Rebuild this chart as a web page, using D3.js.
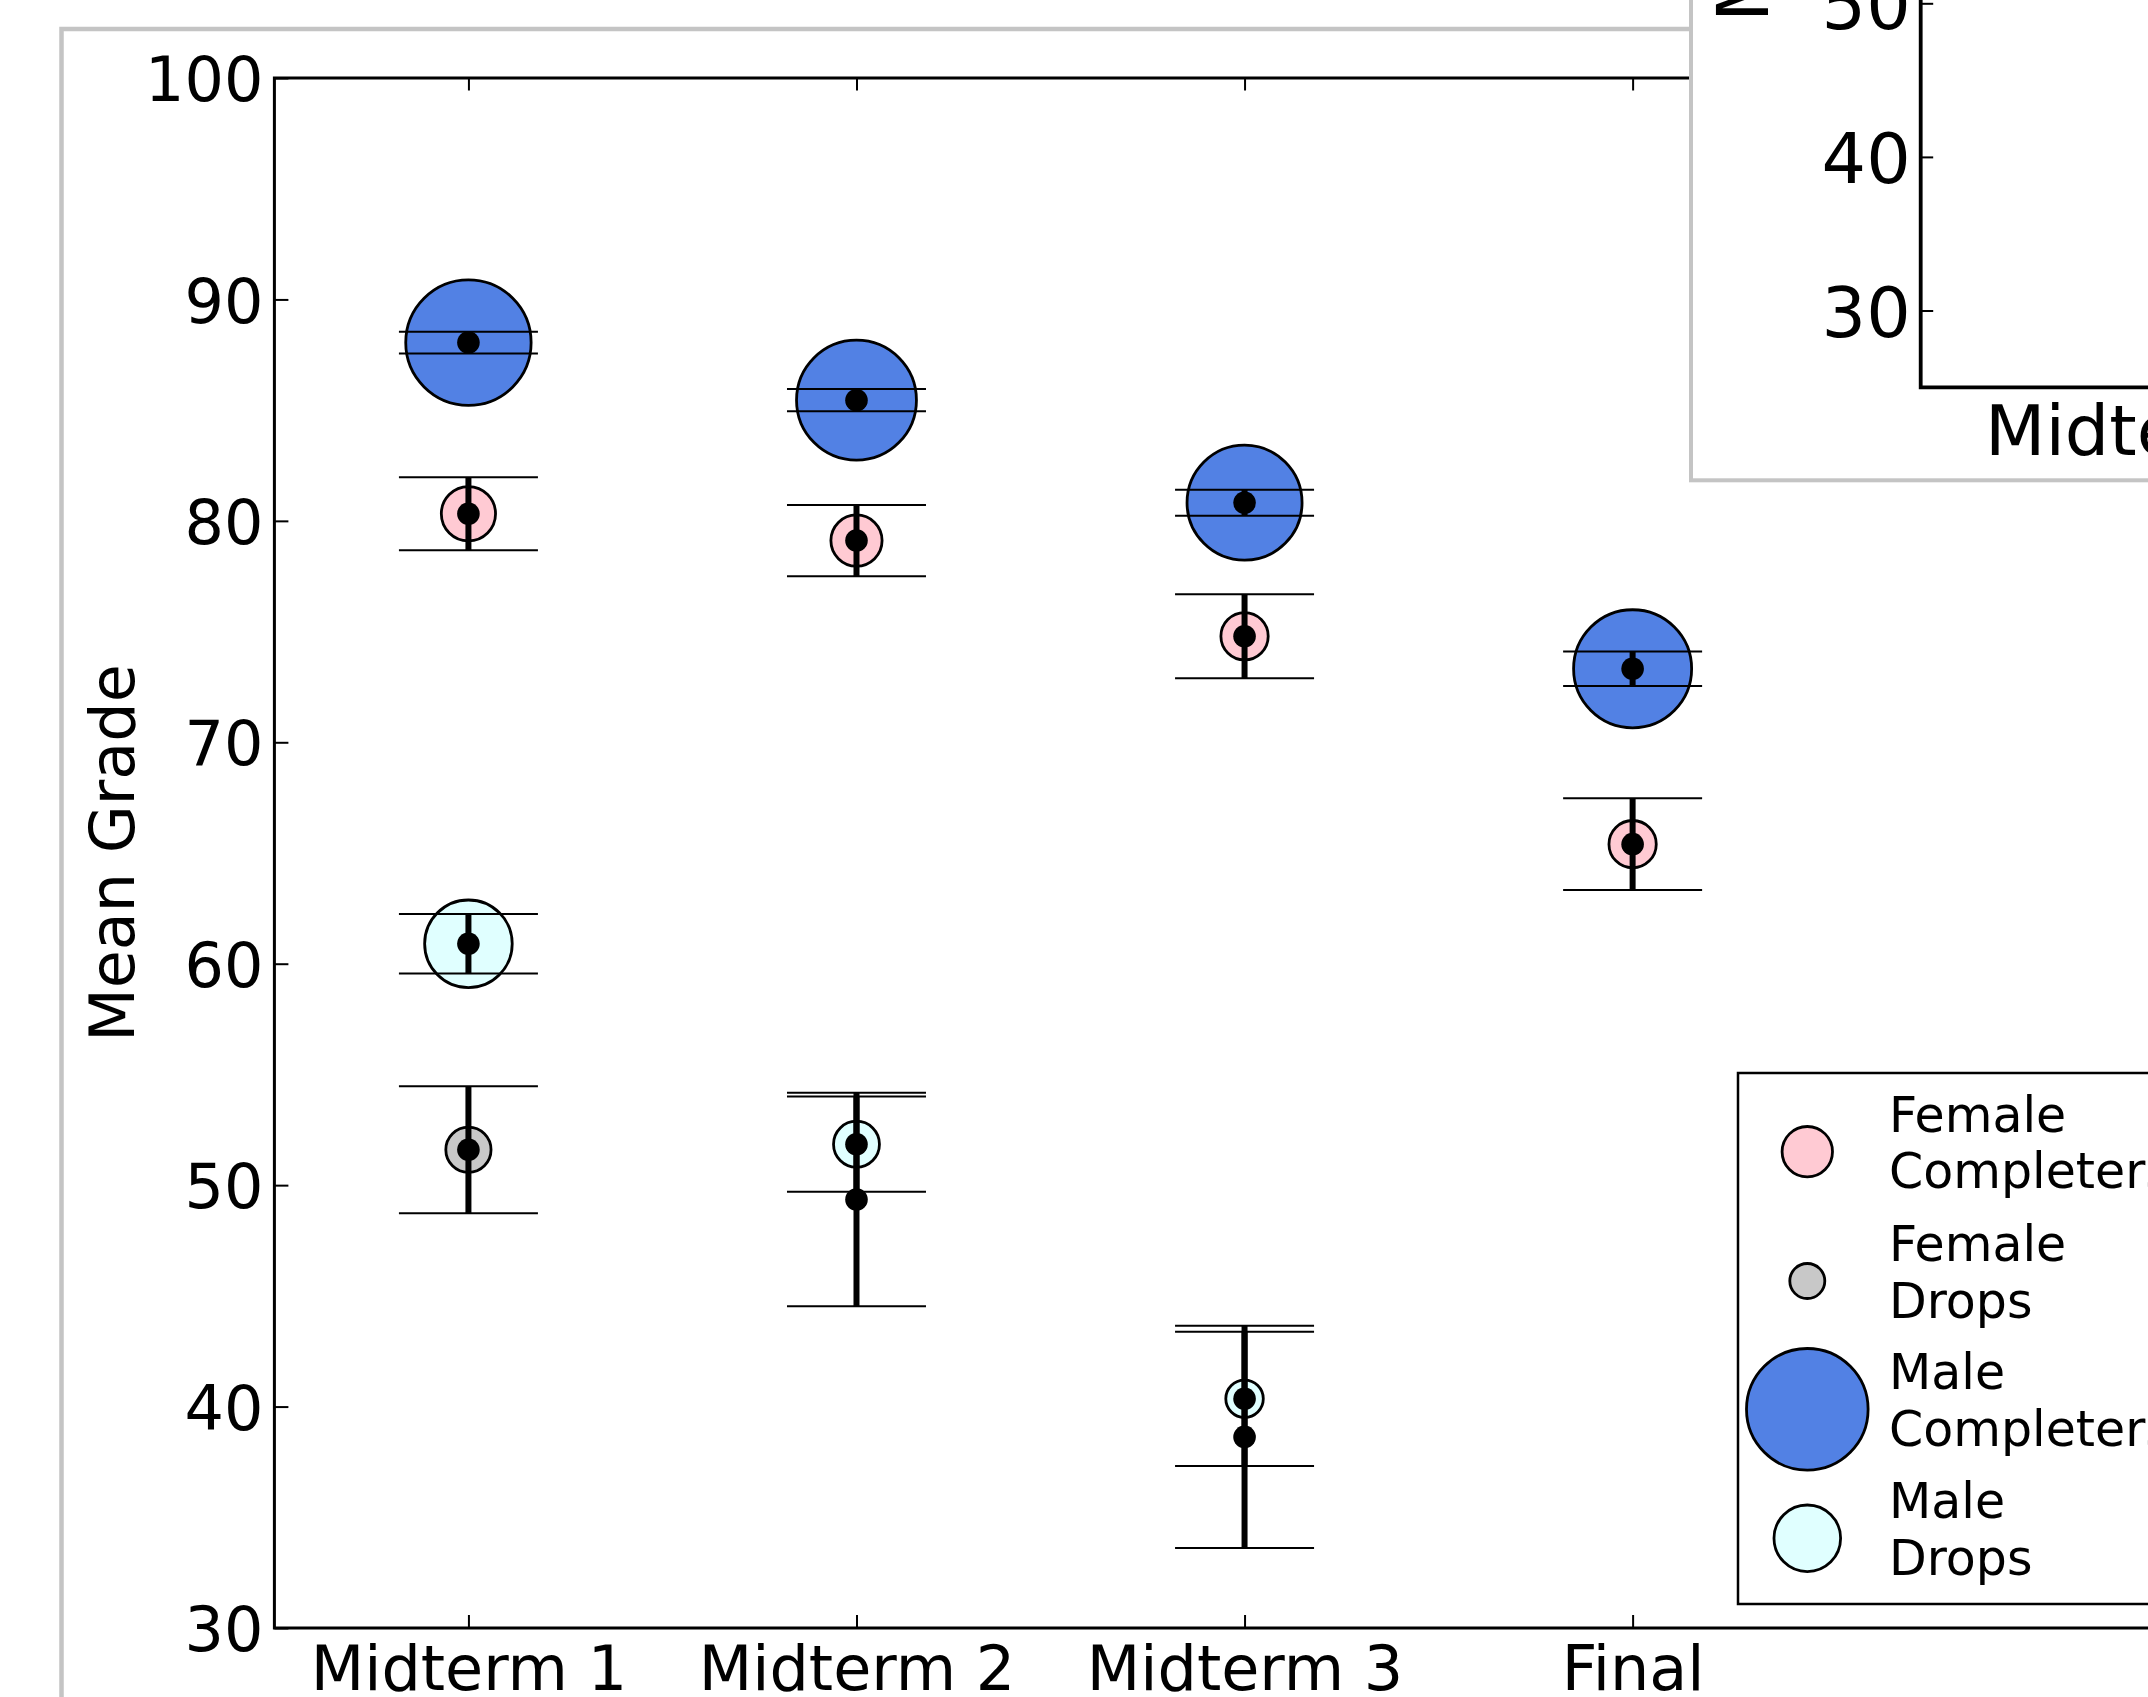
<!DOCTYPE html>
<html><head><meta charset="utf-8">
<script src="https://cdn.jsdelivr.net/npm/d3@7"></script>
<style>
html,body{margin:0;padding:0;background:#fff;overflow:hidden}
svg{display:block}
text{font-family:"DejaVu Sans",sans-serif;fill:#000}
</style></head><body>
<svg id="chart" width="2148" height="1697"></svg>
<script>
// ---------------- DATA ----------------
const categories = ["Midterm 1", "Midterm 2", "Midterm 3", "Final"];
const yTicks = [30, 40, 50, 60, 70, 80, 90, 100];

const maleCompMean = [88.05, 85.45, 80.82, 73.32];
const maleCompErr  = [0.49, 0.50, 0.59, 0.78];
const maleCompN    = [246, 225, 207, 218];

const femCompMean  = [80.32, 79.11, 74.79, 65.40];
const femCompErr   = [1.65, 1.61, 1.90, 2.07];
const femCompN     = [46, 41, 35, 35];

const maleDropMean = [60.90, 51.85, 40.35, null];
const maleDropErr  = [1.34, 2.15, 3.03, null];
const maleDropN    = [120, 33, 22, null];

const femDropMean  = [51.60, 49.35, 38.63, null];
const femDropErr   = [2.87, 4.82, 5.02, null];
const femDropN     = [32, 4, 4, null];

const legendLabels = [["Female", "Completers"], ["Female", "Drops"], ["Male", "Completers"], ["Male", "Drops"]];

// overlapping inset (second figure) visible in the corner
const insetYTicks = [30, 40, 50];
const insetXLabel = "Midterm 1";
const yLabel = "Mean Grade";

(function () {
// ---------------- LAYOUT ----------------
const W = 2148, H = 1697;
const svg = d3.select("#chart");
svg.append("rect").attr("width", W).attr("height", H).attr("fill", "#fff");

// figure frame
svg.append("rect").attr("x", 61.5).attr("y", 29).attr("width", 3000).attr("height", 3000)
  .attr("fill", "none").attr("stroke", "#c4c4c4").attr("stroke-width", 4.5);

const pLeft = 274.4, pRight = 2214.7, pTop = 78, pBottom = 1628;
const x = d3.scaleLinear().domain([-0.5, 4.5]).range([pLeft, pRight]);
const y = d3.scaleLinear().domain([30, 100]).range([pBottom, pTop]);
const r = d3.scaleSqrt().domain([0, 250]).range([0, 63.2]);

const series = [
  {name: "Male Completers", mean: maleCompMean, err: maleCompErr, n: maleCompN, fill: "#5281e4"},
  {name: "Female Completers", mean: femCompMean, err: femCompErr, n: femCompN, fill: "#ffcad3"},
  {name: "Male Drops", mean: maleDropMean, err: maleDropErr, n: maleDropN, fill: "#e0ffff"},
  {name: "Female Drops", mean: femDropMean, err: femDropErr, n: femDropN, fill: "#c8c8c8"}
];

// axes
const fs = 62;
const gy = svg.append("g").attr("transform", `translate(${pLeft},0)`)
  .call(d3.axisLeft(y).tickValues(yTicks).tickSizeInner(-14).tickSizeOuter(0).tickPadding(11).tickFormat(d3.format("d")));
gy.select(".domain").remove();
gy.selectAll(".tick line").attr("stroke", "#000").attr("stroke-width", 2);
gy.selectAll(".tick text").attr("font-size", fs).attr("dy", "0.365em").style("font-family", "DejaVu Sans");

const gyR = svg.append("g").attr("transform", `translate(${pRight},0)`)
  .call(d3.axisRight(y).tickValues(yTicks).tickSizeInner(-14).tickSizeOuter(0).tickFormat(""));
gyR.select(".domain").remove();
gyR.selectAll(".tick line").attr("stroke", "#000").attr("stroke-width", 2);

const gx = svg.append("g").attr("transform", `translate(0,${pBottom})`)
  .call(d3.axisBottom(x).tickValues(d3.range(categories.length)).tickSizeInner(-13).tickSizeOuter(0).tickPadding(18).tickFormat(i => categories[i]));
gx.select(".domain").remove();
gx.selectAll(".tick line").attr("stroke", "#000").attr("stroke-width", 2);
gx.selectAll(".tick text").attr("font-size", fs).style("font-family", "DejaVu Sans");

const gxT = svg.append("g").attr("transform", `translate(0,${pTop})`)
  .call(d3.axisTop(x).tickValues(d3.range(categories.length)).tickSizeInner(-12.5).tickSizeOuter(0).tickFormat(""));
gxT.select(".domain").remove();
gxT.selectAll(".tick line").attr("stroke", "#000").attr("stroke-width", 2);

// spines
svg.append("rect").attr("x", pLeft).attr("y", pTop).attr("width", pRight - pLeft).attr("height", pBottom - pTop)
  .attr("fill", "none").attr("stroke", "#000").attr("stroke-width", 3);

// y label
svg.append("text").attr("transform", `translate(134,${(pTop + pBottom) / 2}) rotate(-90)`)
  .attr("text-anchor", "middle").attr("font-size", fs).text(yLabel);

// points (circles)
const pts = [];
series.forEach(s => {
  categories.forEach((c, i) => {
    if (s.mean[i] != null) pts.push({s, i, m: s.mean[i], e: s.err[i], n: s.n[i]});
  });
});
const gm = svg.append("g");
gm.selectAll("circle").data(pts).join("circle")
  .attr("cx", d => x(d.i)).attr("cy", d => y(d.m)).attr("r", d => r(d.n))
  .attr("fill", d => d.s.fill).attr("stroke", "#000").attr("stroke-width", 2.8);

// error bars on top
const capHalf = 69.5;
const ge = svg.append("g");
const eb = ge.selectAll("g").data(pts).join("g");
eb.append("line").attr("x1", d => x(d.i)).attr("x2", d => x(d.i))
  .attr("y1", d => y(d.m - d.e)).attr("y2", d => y(d.m + d.e))
  .attr("stroke", "#000").attr("stroke-width", 6);
eb.append("line").attr("x1", d => x(d.i) - capHalf).attr("x2", d => x(d.i) + capHalf)
  .attr("y1", d => y(d.m + d.e)).attr("y2", d => y(d.m + d.e))
  .attr("stroke", "#000").attr("stroke-width", 2);
eb.append("line").attr("x1", d => x(d.i) - capHalf).attr("x2", d => x(d.i) + capHalf)
  .attr("y1", d => y(d.m - d.e)).attr("y2", d => y(d.m - d.e))
  .attr("stroke", "#000").attr("stroke-width", 2);
eb.append("circle").attr("cx", d => x(d.i)).attr("cy", d => y(d.m)).attr("r", 11.3).attr("fill", "#000");

// legend
const lg = svg.append("g");
lg.append("rect").attr("x", 1738).attr("y", 1073).attr("width", 800).attr("height", 531)
  .attr("fill", "#fff").attr("stroke", "#000").attr("stroke-width", 2.5);
const legendOrder = [1, 3, 0, 2];
const legendR = [25.2, 17.5, 60.8, 33.3];
const legendCy = [1151.7, 1281, 1409.3, 1538.3];
legendOrder.forEach((si, k) => {
  const s = series[si];
  lg.append("circle").attr("cx", 1807.3).attr("cy", legendCy[k]).attr("r", legendR[k])
    .attr("fill", s.fill).attr("stroke", "#000").attr("stroke-width", 2.8);
  const t = lg.append("text").attr("font-size", 49).attr("x", 1889);
  t.append("tspan").attr("x", 1889).attr("y", legendCy[k] - 20).text(legendLabels[k][0]);
  t.append("tspan").attr("x", 1889).attr("y", legendCy[k] + 36.5).text(legendLabels[k][1]);
});

// inset (overlapping second figure)
const ig = svg.append("g");
ig.append("rect").attr("x", 1691).attr("y", -30).attr("width", 800).attr("height", 510.3)
  .attr("fill", "#fff").attr("stroke", "#c4c4c4").attr("stroke-width", 4);
const iy = d3.scaleLinear().domain([25, 50]).range([387.3, 3.3]);
const iLeft = 1920.7;
const giy = ig.append("g").attr("transform", `translate(${iLeft},0)`)
  .call(d3.axisLeft(iy).tickValues(insetYTicks).tickSizeInner(-12.5).tickSizeOuter(0).tickPadding(10).tickFormat(d3.format("d")));
giy.select(".domain").remove();
giy.selectAll(".tick line").attr("stroke", "#000").attr("stroke-width", 2);
giy.selectAll(".tick text").attr("font-size", 70).attr("dy", "0.365em").style("font-family", "DejaVu Sans");
ig.append("path").attr("d", `M${iLeft},-10V${iy(25)}H2300`).attr("fill", "none").attr("stroke", "#000").attr("stroke-width", 3.8);
ig.append("text").attr("x", 1985).attr("y", 455).attr("font-size", 70).text(insetXLabel);
ig.append("text").attr("transform", "translate(1768,22) rotate(-90)").attr("font-size", 71).text(yLabel);
})();
</script>
</body></html>
